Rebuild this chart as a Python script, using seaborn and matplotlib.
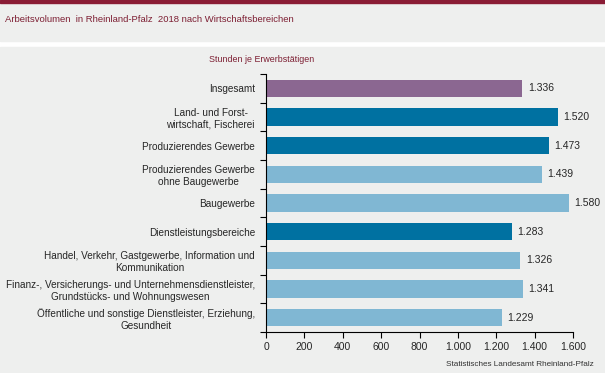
import numpy as np
import pandas as pd
import matplotlib
matplotlib.use('Agg')
import matplotlib.pyplot as plt
import seaborn as sns
from matplotlib.patches import Rectangle

categories = [
    'Insgesamt',
    'Land- und Forst-\nwirtschaft, Fischerei',
    'Produzierendes Gewerbe',
    'Produzierendes Gewerbe\nohne Baugewerbe',
    'Baugewerbe',
    'Dienstleistungsbereiche',
    'Handel, Verkehr, Gastgewerbe, Information und\nKommunikation',
    'Finanz-, Versicherungs- und Unternehmensdienstleister,\nGrundstücks- und Wohnungswesen',
    'Öffentliche und sonstige Dienstleister, Erziehung,\nGesundheit',
]
stunden = [1336, 1520, 1473, 1439, 1580, 1283, 1326, 1341, 1229]
bar_colors = ['#8b6791', '#0071a1', '#0071a1', '#80b7d3', '#80b7d3',
              '#0071a1', '#80b7d3', '#80b7d3', '#80b7d3']
xticks = [0, 200, 400, 600, 800, 1000, 1200, 1400, 1600]

bg = '#eeefee'
red = '#7d1f33'

sns.set_style('white')
plt.rcParams['font.family'] = ['Liberation Sans', 'DejaVu Sans']

df = pd.DataFrame({'Bereich': categories, 'Stunden': stunden})

fig = plt.figure(figsize=(6.05, 3.73), dpi=100)
fig.patch.set_facecolor('white')
# backgrounds: title band, chart panel, top line
fig.patches.append(Rectangle((0, 1 - 41 / 373), 1, 39 / 373, transform=fig.transFigure,
                             color=bg, zorder=-2))
fig.patches.append(Rectangle((0, 0), 1, 1 - 47 / 373, transform=fig.transFigure,
                             color=bg, zorder=-2))
fig.patches.append(Rectangle((0, 1 - 2.5 / 373), 1, 2.5 / 373, transform=fig.transFigure,
                             color='#8a1c35', zorder=-1))

ax = fig.add_axes([266 / 605, 1 - 332 / 373, 307 / 605, 258 / 373])
ax.set_facecolor(bg)

sns.barplot(data=df, x='Stunden', y='Bereich', hue='Bereich', palette=bar_colors,
            legend=False, width=0.6, ax=ax, saturation=1, linewidth=0, edgecolor='none')

n = len(categories)
ax.set_xlim(0, 1600)
ax.set_ylim(n - 0.5, -0.5)
ax.set_xticks(xticks)
ax.set_xticklabels([f'{v:,}'.replace(',', '.') for v in xticks], fontsize=7.5)
ax.set_yticks(np.arange(-0.5, n, 1))
ax.set_yticklabels([''] * (n + 1))
ax.set_yticks(range(n), minor=True)
ax.set_yticklabels(categories, minor=True, fontsize=7.2, ha='right', multialignment='center')
ax.tick_params(axis='y', which='minor', length=0, pad=8)
ax.tick_params(axis='y', which='major', length=4, width=0.8, direction='out', color='black', left=True)
ax.tick_params(axis='x', length=4, width=0.8, direction='out', color='black', bottom=True, pad=3)
ax.set_xlabel('')
ax.set_ylabel('')

for s in ['top', 'right']:
    ax.spines[s].set_visible(False)
for s in ['left', 'bottom']:
    ax.spines[s].set_color('black')
    ax.spines[s].set_linewidth(0.8)

for i, v in enumerate(stunden):
    ax.text(v + 28, i, f'{v:,}'.replace(',', '.'), va='center', ha='left', fontsize=7.5)

fig.text(5 / 605, 1 - 20 / 373, 'Arbeitsvolumen  in Rheinland-Pfalz  2018 nach Wirtschaftsbereichen',
         color=red, fontsize=6.8, va='center', ha='left')
fig.text(262 / 605, 1 - 59 / 373, 'Stunden je Erwerbstätigen', color=red,
         fontsize=6.4, va='center', ha='center')
fig.text(594 / 605, 1 - 365 / 373, 'Statistisches Landesamt Rheinland-Pfalz',
         color='#333333', fontsize=5.9, va='center', ha='right')

fig.savefig('out.png', dpi=100, facecolor=fig.get_facecolor())
